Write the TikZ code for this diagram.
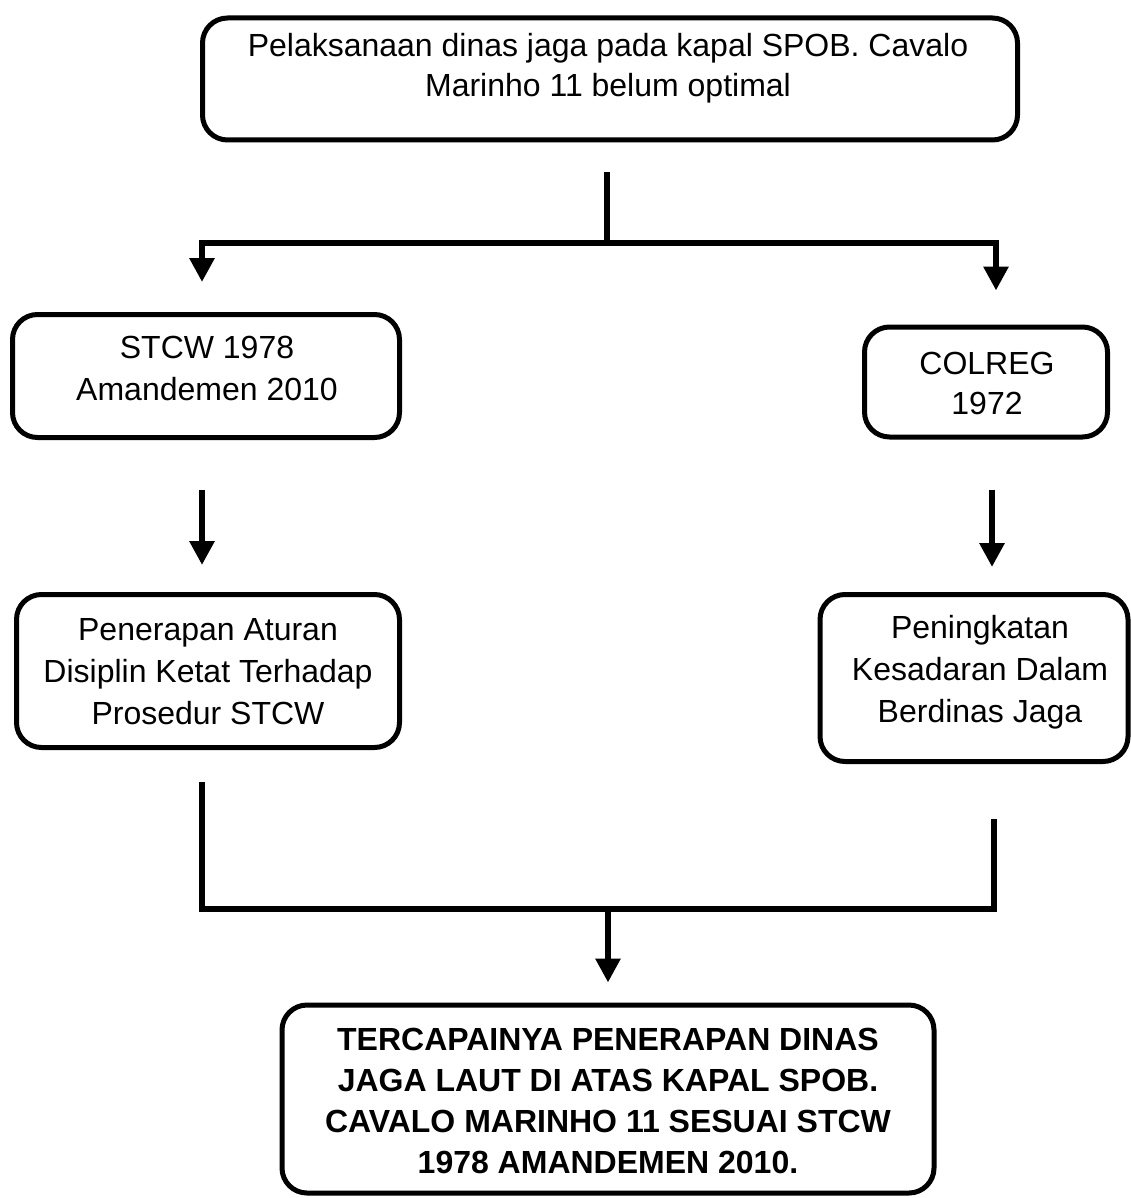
\documentclass[tikz,border=0pt]{standalone}
\usepackage{fontspec}
\setmainfont{Liberation Sans}
\usetikzlibrary{arrows.meta}
\begin{document}
\begin{tikzpicture}[x=1pt,y=-1pt,
  box/.style={draw=black,line width=5pt,rounded corners=25pt,inner sep=0pt},
  txt/.style={align=center,inner sep=0pt,font=\fontsize{32}{42}\selectfont},
  conn/.style={draw=black,line width=6.5pt},
  arr/.style={conn,-{Triangle[width=24pt,length=24pt]}}]
\useasboundingbox (0,0) rectangle (1131,1198);
% boxes
\node[box,minimum width=815pt,minimum height=122pt] (top) at (610,79) {};
\node[txt,font=\fontsize{32}{40}\selectfont] (toptxt) at (608,68) {Pelaksanaan dinas jaga pada kapal SPOB. Cavalo\\Marinho 11 belum optimal};
\node[box,minimum width=387pt,minimum height=123pt] (stcw) at (206,376) {};
\node[txt] (stcwtxt) at (207,368) {STCW 1978\\Amandemen 2010};
\node[box,minimum width=243pt,minimum height=110pt] (colreg) at (986,382) {};
\node[txt,font=\fontsize{32}{40}\selectfont] (colregtxt) at (987,383) {COLREG\\1972};
\node[box,minimum width=383pt,minimum height=153pt] (pen) at (208,671) {};
\node[txt] (pentxt) at (208,672) {Penerapan Aturan\\Disiplin Ketat Terhadap\\Prosedur STCW};
\node[box,minimum width=308pt,minimum height=167pt] (pen2) at (974,678) {};
\node[txt] (pen2txt) at (980,672) {Peningkatan\\Kesadaran Dalam\\Berdinas Jaga};
\node[box,minimum width=652pt,minimum height=188pt] (res) at (608,1099) {};
\node[txt,font=\fontsize{32}{41}\selectfont\bfseries] (restxt) at (608,1101) {TERCAPAINYA PENERAPAN DINAS\\JAGA LAUT DI ATAS KAPAL SPOB.\\CAVALO MARINHO 11 SESUAI STCW\\1978 AMANDEMEN 2010.};
% top split
\coordinate (jt) at (607,243);
\draw[conn] ([xshift=-3pt,yshift=-30pt]top.south) -- (jt);
\draw[arr] (jt) -| ([xshift=-4pt,yshift=30pt]stcw.north);
\draw[arr] (jt) -| ([xshift=10pt,yshift=34pt]colreg.north);
% middle arrows
\draw[arr] ([xshift=-4pt,yshift=-50pt]stcw.south) -- ([xshift=-4pt,yshift=27pt]stcw.south |- pen.north);
\draw[arr] ([xshift=6pt,yshift=-50pt]colreg.south) -- ([xshift=6pt,yshift=25pt]colreg.south |- pen2.north);
% bottom merge
\draw[conn] ([xshift=-6pt,yshift=-32pt]pen.south) |- ([xshift=20pt,yshift=-145pt]pen2.south) -- ([xshift=20pt,yshift=-55pt]pen2.south);
\coordinate (jb) at (608,907);
\draw[arr] (jb) -- ([yshift=20pt]res.north);
\end{tikzpicture}
\end{document}
